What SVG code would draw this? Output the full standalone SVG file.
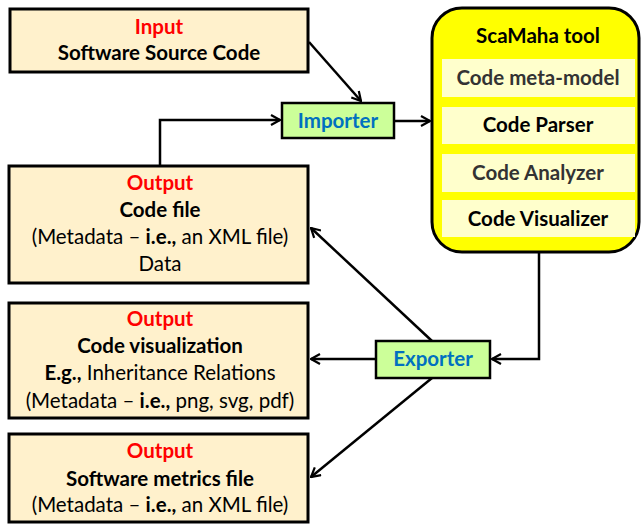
<svg xmlns="http://www.w3.org/2000/svg" width="642" height="525" viewBox="0 0 642 525">
<defs>
<style>
.box{fill:#FFF1CC;stroke:#000;stroke-width:3}
.grn{fill:#CCFF99;stroke:#000;stroke-width:2.5}
.inner{fill:#FFFFCC}
text{font-family:Lato,"Liberation Sans",sans-serif;font-size:20.5px;text-anchor:middle;fill:#000}
.b{font-weight:bold}
.red{fill:#FF0000;font-weight:bold}
.blue{fill:#0070C0;font-weight:bold}
.gray{fill:#333333;font-weight:bold}
.con{fill:none;stroke:#000;stroke-width:2.5}
</style>
<marker id="ah" viewBox="0 0 12 12" refX="11" refY="6" markerWidth="12" markerHeight="12" markerUnits="userSpaceOnUse" orient="auto">
<path d="M2,1 L11,6 L2,11" fill="none" stroke="#000" stroke-width="2.2"/>
</marker>
</defs>
<rect width="642" height="525" fill="#fff"/>
<g id="connectors">
<path class="con" d="M309,42 L361,101" marker-end="url(#ah)"/>
<path class="con" d="M160,165 L160,120 L280,120" marker-end="url(#ah)"/>
<path class="con" d="M395,121 L430,121" marker-end="url(#ah)"/>
<path class="con" d="M539,253 L539,359 L492,359" marker-end="url(#ah)"/>
<path class="con" d="M376,359 L311,359" marker-end="url(#ah)"/>
<path class="con" d="M432,341 L311,228" marker-end="url(#ah)"/>
<path class="con" d="M432,378 L311,477" marker-end="url(#ah)"/>
</g>
<g id="input">
<rect class="box" x="10" y="9" width="298" height="63"/>
<text x="159" y="34" class="red">Input</text>
<text x="159" y="60" class="b">Software Source Code</text>
</g>
<g id="importer">
<rect class="grn" x="282" y="103" width="112" height="35"/>
<text x="338" y="128" class="blue">Importer</text>
</g>
<g id="scamaha">
<rect x="432" y="8" width="207" height="244" rx="30" ry="30" fill="#FFFF00" stroke="#000" stroke-width="3"/>
<text x="538" y="43" class="b">ScaMaha tool</text>
<rect class="inner" x="442" y="59" width="193" height="38"/>
<text x="538" y="85" class="gray">Code meta-model</text>
<rect class="inner" x="442" y="107" width="193" height="37"/>
<text x="538" y="132" class="b">Code Parser</text>
<rect class="inner" x="442" y="154" width="193" height="38"/>
<text x="538" y="180" class="gray">Code Analyzer</text>
<rect class="inner" x="442" y="200" width="193" height="37"/>
<text x="538" y="226" class="b">Code Visualizer</text>
</g>
<g id="output1">
<rect class="box" x="9" y="166" width="299" height="117"/>
<text x="160" y="190" class="red">Output</text>
<text x="160" y="217" class="b">Code file</text>
<text x="160" y="244">(Metadata – <tspan class="b">i.e.,</tspan> an XML file)</text>
<text x="160" y="271">Data</text>
</g>
<g id="exporter">
<rect class="grn" x="376" y="341" width="114" height="37"/>
<text x="433" y="366" class="blue">Exporter</text>
</g>
<g id="output2">
<rect class="box" x="9" y="303" width="299" height="115"/>
<text x="160" y="326" class="red">Output</text>
<text x="160" y="353" class="b">Code visualization</text>
<text x="160" y="380"><tspan class="b">E.g.,</tspan> Inheritance Relations</text>
<text x="160" y="408">(Metadata – <tspan class="b">i.e.,</tspan> png, svg, pdf)</text>
</g>
<g id="output3">
<rect class="box" x="9" y="434" width="299" height="88"/>
<text x="160" y="458" class="red">Output</text>
<text x="160" y="486" class="b">Software metrics file</text>
<text x="160" y="512">(Metadata – <tspan class="b">i.e.,</tspan> an XML file)</text>
</g>
</svg>
